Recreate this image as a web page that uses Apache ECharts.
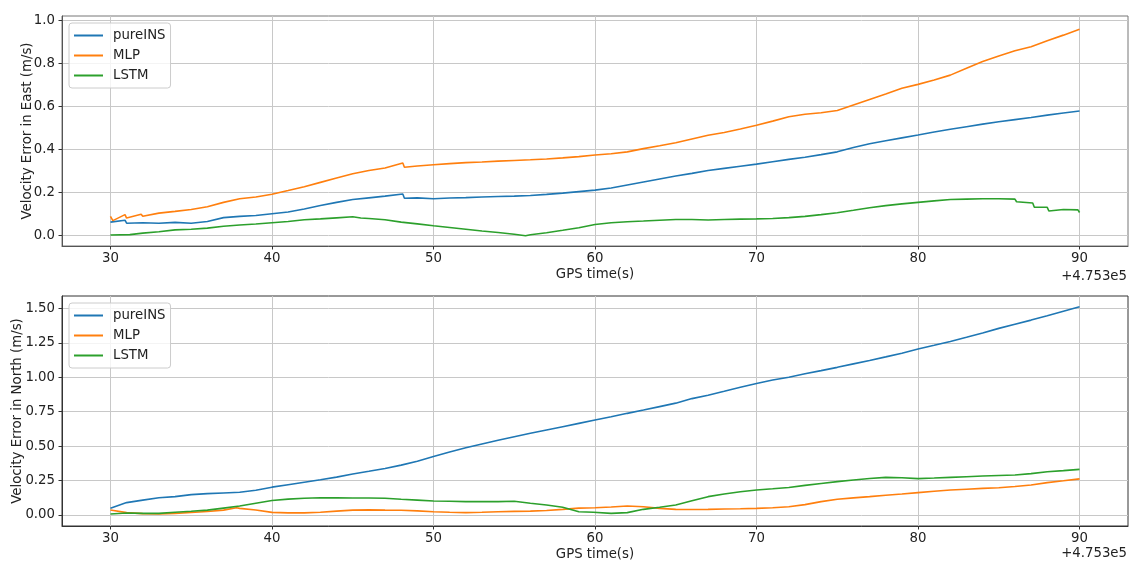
<!DOCTYPE html>
<html>
<head>
<meta charset="utf-8">
<script src="https://cdn.jsdelivr.net/npm/echarts@6/dist/echarts.min.js"></script>
<style>html,body{margin:0;padding:0;background:#fff}#c{width:1132px;height:561px}</style>
</head>
<body>
<div id="c"></div>
<script>
// ---- data: [GPS time offset (s), velocity error (m/s)] ----
var seriesNames = ['pureINS', 'MLP', 'LSTM'];
var xTicks = [30, 40, 50, 60, 70, 80, 90];
var eastTicks = [0, 0.2, 0.4, 0.6, 0.8, 1.0];
var northTicks = [0, 0.25, 0.5, 0.75, 1.0, 1.25, 1.5];

var eastPureINS = [[30,0.063],[30.9,0.072],[31.0,0.058],[32,0.06],[33,0.058],[34,0.062],[35,0.058],[36,0.066],[37,0.084],[38,0.09],[39,0.094],[40,0.102],[41,0.11],[42,0.124],[43,0.14],[44,0.155],[45,0.168],[46,0.176],[47,0.184],[48.1,0.194],[48.2,0.174],[49,0.176],[50,0.172],[51,0.175],[52,0.177],[53,0.18],[54,0.182],[55,0.184],[56,0.187],[57,0.192],[58,0.198],[59,0.205],[60,0.212],[61,0.222],[62,0.236],[63,0.25],[64,0.264],[65,0.278],[66,0.29],[67,0.303],[68,0.313],[69,0.323],[70,0.333],[71,0.344],[72,0.355],[73,0.365],[74,0.377],[75,0.39],[76,0.41],[77,0.428],[78,0.442],[79,0.455],[80,0.468],[81,0.482],[82,0.495],[83,0.507],[84,0.519],[85,0.53],[86,0.54],[87,0.55],[88,0.561],[89,0.571],[90,0.58]];
var eastMLP = [[30,0.09],[30.15,0.07],[30.9,0.098],[31.0,0.082],[31.9,0.1],[32.0,0.09],[33,0.105],[34,0.113],[35,0.122],[36,0.135],[37,0.155],[38,0.172],[39,0.18],[40,0.193],[41,0.21],[42,0.228],[43,0.248],[44,0.268],[45,0.288],[46,0.303],[47,0.315],[48.1,0.338],[48.2,0.318],[49,0.324],[50,0.33],[51,0.335],[52,0.34],[53,0.343],[54,0.347],[55,0.35],[56,0.353],[57,0.357],[58,0.362],[59,0.368],[60,0.375],[61,0.381],[62,0.39],[63,0.405],[64,0.418],[65,0.432],[66,0.45],[67,0.467],[68,0.48],[69,0.496],[70,0.514],[71,0.533],[72,0.553],[73,0.565],[74,0.572],[75,0.582],[76,0.608],[77,0.634],[78,0.659],[79,0.686],[80,0.704],[81,0.724],[82,0.747],[83,0.779],[84,0.81],[85,0.836],[86,0.86],[87,0.879],[88,0.907],[89,0.933],[90,0.96]];
var eastLSTM = [[30,0.003],[31.2,0.005],[31.3,0.01],[32,0.012],[33,0.018],[34,0.027],[35,0.03],[36,0.035],[37,0.044],[38,0.05],[39,0.054],[40,0.06],[41,0.066],[42,0.074],[43,0.078],[44,0.083],[45,0.088],[45.5,0.082],[46,0.08],[47,0.074],[48,0.063],[49,0.055],[50,0.046],[51,0.038],[52,0.03],[53,0.022],[54,0.015],[55,0.007],[55.7,0.0],[56,0.004],[57,0.014],[58,0.025],[59,0.037],[60,0.052],[61,0.06],[62,0.065],[63,0.068],[64,0.072],[65,0.075],[66,0.075],[67,0.073],[68,0.075],[69,0.077],[70,0.078],[71,0.08],[72,0.084],[73,0.09],[74,0.098],[75,0.107],[76,0.118],[77,0.13],[78,0.14],[79,0.148],[80,0.155],[81,0.162],[82,0.168],[83,0.17],[84,0.172],[85,0.172],[86,0.17],[86.1,0.158],[87.1,0.152],[87.2,0.132],[88,0.132],[88.1,0.115],[89,0.122],[89.9,0.12],[90,0.108]];

var northPureINS = [[30,0.049],[31,0.09],[32,0.108],[33,0.125],[34,0.133],[35,0.148],[36,0.155],[37,0.16],[38,0.165],[39,0.18],[40,0.202],[41,0.22],[42,0.238],[43,0.256],[44,0.275],[45,0.297],[46,0.317],[47,0.338],[48,0.362],[49,0.39],[50,0.425],[51,0.458],[52,0.488],[53,0.515],[54,0.542],[55,0.568],[56,0.593],[57,0.617],[58,0.641],[59,0.665],[60,0.689],[61,0.713],[62,0.738],[63,0.762],[64,0.787],[65,0.812],[66,0.845],[67,0.87],[68,0.898],[69,0.927],[70,0.955],[71,0.98],[72,1.0],[73,1.025],[74,1.048],[75,1.072],[76,1.097],[77,1.122],[78,1.148],[79,1.175],[80,1.205],[81,1.232],[82,1.26],[83,1.29],[84,1.322],[85,1.355],[86,1.385],[87,1.415],[88,1.447],[89,1.48],[90,1.512]];
var northMLP = [[30,0.036],[31,0.017],[32,0.01],[33,0.008],[34,0.012],[35,0.018],[36,0.025],[37,0.035],[37.8,0.052],[38,0.048],[39,0.036],[40,0.019],[41,0.015],[42,0.015],[43,0.02],[44,0.028],[45,0.035],[46,0.037],[47,0.035],[48,0.034],[49,0.03],[50,0.024],[51,0.02],[52,0.017],[53,0.02],[54,0.024],[55,0.026],[56,0.028],[57,0.033],[58,0.041],[59,0.05],[60,0.053],[61,0.058],[62,0.065],[63,0.06],[64,0.048],[65,0.041],[66,0.04],[67,0.041],[68,0.043],[69,0.045],[70,0.048],[71,0.053],[72,0.06],[73,0.075],[74,0.097],[75,0.114],[76,0.124],[77,0.133],[78,0.143],[79,0.152],[80,0.162],[81,0.172],[82,0.181],[83,0.187],[84,0.193],[85,0.198],[86,0.207],[87,0.218],[88,0.235],[89,0.248],[90,0.262]];
var northLSTM = [[30,0.007],[31,0.014],[32,0.012],[33,0.012],[34,0.02],[35,0.027],[36,0.035],[37,0.05],[38,0.065],[39,0.085],[40,0.105],[41,0.115],[42,0.122],[43,0.125],[44,0.124],[45,0.123],[46,0.123],[47,0.122],[48,0.114],[49,0.108],[50,0.101],[51,0.1],[52,0.097],[53,0.097],[54,0.097],[55,0.1],[56,0.085],[57,0.073],[58,0.056],[59,0.024],[59.9,0.02],[60,0.006],[61,0.012],[62,0.017],[63,0.041],[64,0.056],[65,0.073],[66,0.104],[67,0.133],[68,0.152],[69,0.169],[70,0.181],[71,0.19],[72,0.2],[73,0.215],[74,0.229],[75,0.242],[76,0.254],[77,0.265],[78,0.273],[79,0.27],[80,0.264],[81,0.268],[82,0.273],[83,0.278],[84,0.283],[85,0.287],[86,0.29],[87,0.3],[88,0.314],[89,0.322],[90,0.331]];

var colors = ['#1f77b4', '#ff7f0e', '#2ca02c'];
var FONT = 'DejaVu Sans';
var FS = 13.3;

function xAxisCfg(gridIndex, spine) {
  return {
    type: 'value', gridIndex: gridIndex, min: 27, max: 93,
    name: 'GPS time(s)', nameLocation: 'middle', nameGap: 22, nameMoveOverlap: false,
    nameTextStyle: {fontFamily: FONT, fontSize: FS, color: '#222'},
    axisLine: {show: true, onZero: false, lineStyle: {color: spine, width: 1}},
    axisTick: {show: true, inside: false, length: 3.5, customValues: xTicks, lineStyle: {color: '#333'}},
    axisLabel: {customValues: xTicks, margin: 6, fontFamily: FONT, fontSize: FS, color: '#222',
      formatter: function (v) { return String(Math.round(v)); }},
    splitLine: {show: true, lineStyle: {color: '#c8c8c8', width: 1}}
  };
}
function yAxisCfg(gridIndex, name, min, max, ticks, digits, gap, spine) {
  return {
    type: 'value', gridIndex: gridIndex, min: min, max: max,
    name: name, nameLocation: 'middle', nameGap: gap, nameMoveOverlap: false,
    nameTextStyle: {fontFamily: FONT, fontSize: FS, color: '#222'},
    axisLine: {show: true, onZero: false, lineStyle: {color: spine, width: 1}},
    axisTick: {show: true, inside: false, length: 3.5, customValues: ticks, lineStyle: {color: '#333'}},
    axisLabel: {customValues: ticks, margin: 7, fontFamily: FONT, fontSize: FS, color: '#222',
      formatter: function (v) { return v.toFixed(digits); }},
    splitLine: {show: true, lineStyle: {color: '#c8c8c8', width: 1}}
  };
}
function legendCfg(top) {
  return {
    orient: 'vertical', left: 69, top: top,
    padding: [6, 5, 6, 5], itemGap: 7, itemWidth: 29, itemHeight: 2, icon: 'rect',
    borderColor: '#cccccc', borderWidth: 1, borderRadius: 3,
    backgroundColor: 'rgba(255,255,255,0.8)',
    textStyle: {fontFamily: FONT, fontSize: FS, color: '#222', padding: [0, 0, 0, 5]},
    data: seriesNames
  };
}
function lineSeries(name, data, idx, color) {
  return {
    name: name, type: 'line', data: data, xAxisIndex: idx, yAxisIndex: idx,
    symbol: 'none', showSymbol: false, color: color,
    lineStyle: {color: color, width: 1.6}, z: 3
  };
}

var chart = echarts.init(document.getElementById('c'), null, {renderer: 'canvas'});
chart.setOption({
  animation: false,
  backgroundColor: '#ffffff',
  color: colors,
  grid: [
    {left: 62, top: 16, width: 1066, height: 230, show: true, borderColor: '#777', borderWidth: 1, backgroundColor: 'transparent', outerBoundsMode: 'none', containLabel: false},
    {left: 62, top: 296, width: 1066, height: 230, show: true, borderColor: '#333', borderWidth: 1, backgroundColor: 'transparent', outerBoundsMode: 'none', containLabel: false}
  ],
  xAxis: [xAxisCfg(0, '#555'), xAxisCfg(1, '#333')],
  yAxis: [
    yAxisCfg(0, 'Velocity Error in East (m/s)', -0.048, 1.022, eastTicks, 1, 28, '#555'),
    yAxisCfg(1, 'Velocity Error in North (m/s)', -0.08, 1.59, northTicks, 2, 38, '#333')
  ],
  legend: [legendCfg(23), legendCfg(303)],
  series: [
    lineSeries('pureINS', eastPureINS, 0, colors[0]),
    lineSeries('MLP', eastMLP, 0, colors[1]),
    lineSeries('LSTM', eastLSTM, 0, colors[2]),
    lineSeries('pureINS', northPureINS, 1, colors[0]),
    lineSeries('MLP', northMLP, 1, colors[1]),
    lineSeries('LSTM', northLSTM, 1, colors[2])
  ],
  graphic: [
    {type: 'text', right: 5, top: 270, style: {text: '+4.753e5', fontFamily: FONT, fontSize: FS, fill: '#222'}},
    {type: 'text', right: 5, top: 547, style: {text: '+4.753e5', fontFamily: FONT, fontSize: FS, fill: '#222'}}
  ]
});
</script>
</body>
</html>
